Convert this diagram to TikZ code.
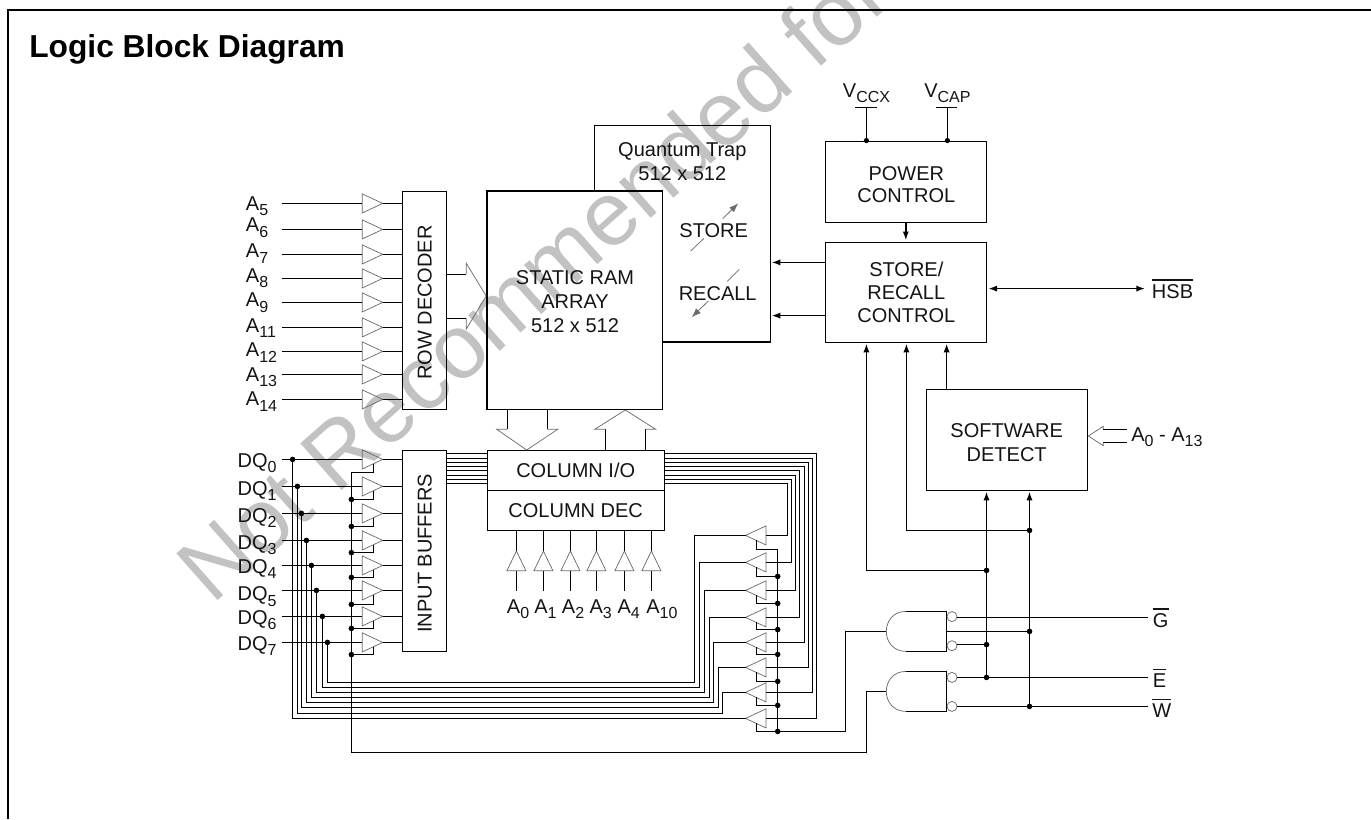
\documentclass[tikz,border=0pt]{standalone}
\usepackage{fontspec}
\setmainfont{Liberation Sans}
\usetikzlibrary{arrows.meta,calc}
\newcommand{\sbs}[1]{\raisebox{-4.2pt}{\fontsize{12pt}{12pt}\selectfont #1}}
\newcommand{\ovl}[1]{\vbox{\hrule height 1.4pt\kern 2.6pt\hbox{#1}}}
\newcommand{\bufr}[4]{%
  \coordinate (#1-in) at (#2,#3);
  \coordinate (#1-out) at ({#2+#4*20.4},#3);
  \draw[tribuf] ($(#1-in)+(0,-9.5)$) -- (#1-out) -- ($(#1-in)+(0,9.5)$) -- cycle;
}
\newcommand{\bufv}[3]{%
  \coordinate (#1-in) at (#2,#3);
  \coordinate (#1-out) at (#2,{#3-19.7});
  \draw[tribuf] ($(#1-in)+(-9.5,0)$) -- (#1-out) -- ($(#1-in)+(9.5,0)$) -- cycle;
}
\tikzset{
  wire/.style={line width=1.1pt,black,line join=miter},
  arrowwire/.style={wire,-{Latex[length=6.5pt,width=4.6pt]},shorten >=1pt},
  tribuf/.style={draw=black!58,line width=0.55pt,line join=miter},
  thinline/.style={draw=black!58,line width=0.55pt},
  blockbox/.style={draw=black,line width=1.1pt,rectangle,inner sep=0pt},
  txt/.style={font=\fontsize{15pt}{15pt}\selectfont,inner sep=0pt,text=black!92},
  mtxt/.style={txt,align=center,anchor=base},
  jdot/.style={fill=black},
}
\begin{document}
\begin{tikzpicture}[x=0.75pt,y=-0.75pt]
\useasboundingbox (0,0) rectangle (1371,819);
% watermark
\begin{scope}
\clip (0,0) rectangle (1371,819);
\node[inner sep=0pt,anchor=base west,rotate=41.5,text=black!24,font=\fontsize{68pt}{68pt}\selectfont] (wm) at (212,606) {Not Recommended for};
\end{scope}
% frame
\draw[line width=2pt] (8,819) -- (8,10) -- (1371,10);
\node[inner sep=0pt,anchor=base west,font=\fontsize{23.8pt}{24pt}\selectfont\bfseries] (title) at (29,57) {Logic Block Diagram};
% blocks
\node[blockbox,minimum width=33pt,minimum height=163.5pt] (rowdec) at (424.5,300.3) {};
\node[blockbox,minimum width=33.3pt,minimum height=150.8pt] (inbuf) at (424.5,550.8) {};
\draw[wire] (594.3,191) -- (594.3,125.3) -- (770.3,125.3) -- (770.3,342) -- (662.3,342);
\coordinate (qt-e1) at (770.3,262.4);
\coordinate (qt-e2) at (770.3,315.6);
\node[blockbox,minimum width=131.8pt,minimum height=163.7pt] (sram) at (574.8,300.2) {};
\node[blockbox,minimum width=132.8pt,minimum height=29.7pt] (colio) at (575.8,470.5) {};
\node[blockbox,minimum width=132.8pt,minimum height=30pt] (coldec) at (575.8,510.3) {};
\node[blockbox,minimum width=120.8pt,minimum height=60.75pt] (pwr) at (905.8,181.8) {};
\node[blockbox,minimum width=120.8pt,minimum height=75pt] (src) at (905.8,292.3) {};
\node[blockbox,minimum width=121pt,minimum height=75.75pt] (sw) at (1007,439.8) {};
% block texts
\node[txt,anchor=base,rotate=90] (rowtxt) at (431.7,302.5) {ROW DECODER};
\node[txt,anchor=base,rotate=90] (intxt) at (431.7,553.3) {INPUT BUFFERS};
\node[txt,anchor=base] (coliotxt) at (575.7,477.3) {COLUMN I/O};
\node[txt,anchor=base] (coldectxt) at (575.7,517.7) {COLUMN DEC};
\node[mtxt] (qttxt) at (682.3,180.7) {Quantum Trap\\[3.5pt]512 x 512};
\node[mtxt] (sramtxt) at (575,332) {STATIC RAM\\[2.7pt]ARRAY\\[2.7pt]512 x 512};
\node[mtxt] (pwrtxt) at (906.3,202.7) {POWER\\[1.8pt]CONTROL};
\node[mtxt] (srctxt) at (906.3,322.7) {STORE/\\[2.5pt]RECALL\\[2.5pt]CONTROL};
\node[mtxt] (swtxt) at (1006.7,461.7) {SOFTWARE\\[3pt]DETECT};
\node[txt,anchor=base] (storetxt) at (713.7,237.7) {STORE};
\node[txt,anchor=base] (recalltxt) at (717.7,300.7) {RECALL};
% store / recall arrows
\draw[thinline] (690.7,251) -- (704,238.3);
\draw[thinline,-{Latex[length=7pt,width=5pt]}] (722.7,218.7) -- (738.3,203.3);
\draw[thinline] (739.3,269.3) -- (727.3,281.3);
\draw[thinline,-{Latex[length=7pt,width=5pt]}] (708.3,301) -- (691.7,317.3);
% row address buffers
\foreach \n/\y/\b/\lab in {5/203.4/210/5,6/229.4/231.7/6,7/254.4/257.7/7,8/278.4/282.3/8,9/302.4/306.7/9,11/327.4/332.3/11,12/351.4/356.7/12,13/374.4/381/13,14/399.4/405.7/14}{
  \node[txt,anchor=base west] (alab\n) at (245.7,\b) {A\sbs{\lab}};
  \coordinate (as\n) at (281.7,\y);
  \bufr{ab\n}{362.3}{\y}{1}
  \draw[wire] (as\n) -- (ab\n-in);
  \draw[wire] (ab\n-out) -- (ab\n-out -| rowdec.west);
}
% hollow bus row decoder to sram
\draw[wire] (rowdec.east |- 0,274.4) -- (466.3,274.4);
\draw[wire] (rowdec.east |- 0,318.4) -- (466.3,318.4);
\draw[thinline] (466.3,274.4) -- (466.3,263.3) -- (sram.west |- 0,296) -- (466.3,329) -- (466.3,318.4);
% sram <-> column buses
\draw[wire] (507.4,409.3) -- (507.4,429.3);
\draw[wire] (547.4,409.3) -- (547.4,429.3);
\draw[thinline] (507.4,429.3) -- (496.7,429.3) -- (526.7,450) -- (557.7,429.3) -- (547.4,429.3);
\draw[wire] (605.6,450.7) -- (605.6,429.3);
\draw[wire] (645.6,450.7) -- (645.6,429.3);
\draw[thinline] (605.6,429.3) -- (594.7,429.3) -- (625.3,410) -- (655.7,429.3) -- (645.6,429.3);
% column address
\foreach \i/\x/\lx/\lab in {0/516.4/506.7/0,1/543.4/534/1,2/570.4/561.7/2,3/596.4/589.3/3,4/624.4/617.3/4,5/651.4/646/10}{
  \node[txt,anchor=base west] (clab\i) at (\lx,613.3) {A\sbs{\lab}};
  \coordinate (cs\i) at (\x,590.7);
  \bufv{cb\i}{\x}{570.7}
  \draw[wire] (cs\i) -- (cb\i-in);
  \draw[wire] (cb\i-out) -- (cb\i-out |- coldec.south);
}
% data input buffers, output buffers, buses
\draw[wire] (351.4,472.4) -- (351.4,752.4) -- (866.4,752.4) -- (866.4,691.4) -- (886.3,691.4);
\draw[wire] (777.5,549.4) -- (777.5,731.4) -- (845.6,731.4) -- (845.6,631.4) -- (886.3,631.4);
\foreach \i/\dy/\dx/\dl/\ey/\ty/\rx/\lx/\by/\busy/\en in {
  0/459.4/292.6/467.3/472.4/718.4/816.4/727/718.4/453.6/731.4,
  1/486.4/297.4/495/499.4/692.4/812.4/722.6/713.4/458.4/705.4,
  2/513.4/301.4/522.3/526.4/667.4/808.4/718.6/707.6/462.4/681.4,
  3/540.4/306.4/549/552.6/642.4/804.4/713.6/702.6/466.6/654.4,
  4/565.4/311.4/573.3/577.4/617.4/799.4/709.6/697.6/470.6/629.6,
  5/590.4/316.4/600.7/604.4/590.4/795.4/704.6/692.4/475.4/603.4,
  6/616.4/322.4/624.3/628.4/562.4/791.4/699.6/687.4/479.6/576.4,
  7/642.4/327.4/650/654.6/535.4/787.4/694.6/682.4/483.4/549.4}{
  \node[txt,anchor=base west] (dqlab\i) at (237.3,\dl) {DQ\sbs{\i}};
  \coordinate (dqs\i) at (282,\dy);
  \bufr{ib\i}{362.3}{\dy}{1}
  \bufr{ob\i}{765.9}{\ty}{-1}
  \draw[wire] (dqs\i) -- (ib\i-in);
  \draw[wire] (ib\i-out) -- (ib\i-out -| inbuf.west);
  \fill[jdot] (\dx,\dy) circle [radius=2.8];
  % enable of input buffer
  \draw[wire] (351.4,\ey) -- (373.4,\ey) -- (373.4,{\dy+4.4});
  % bus from input buffers to column I/O
  \draw[wire] (inbuf.east |- 0,\busy) -- (colio.west |- 0,\busy);
  % bus column I/O to output buffer
  \draw[wire] (colio.east |- 0,\busy) -- (\rx,\busy) -- (\rx,\ty) -- (ob\i-in);
  % output buffer to DQ line
  \draw[wire] (ob\i-out) -- (\lx,\ty) -- (\lx,\by) -- (\dx,\by) -- (\dx,\dy);
  % enable of output buffer
  \draw[wire] (756.4,{\ty+4.6}) -- (756.4,\en) -- (777.5,\en);
}
\foreach \y in {499.4,526.4,552.6,577.4,604.4,628.4,654.6}{\fill[jdot] (351.4,\y) circle [radius=2.8];}
\foreach \y in {576.4,603.4,629.6,654.4,681.4,705.4,731.4}{\fill[jdot] (777.7,\y) circle [radius=2.8];}
% power
\node[txt,anchor=base west] (vccx) at (842.7,97.3) {V\sbs{CCX}};
\node[txt,anchor=base west] (vcap) at (924,97.3) {V\sbs{CAP}};
\coordinate (vccxt) at (866.4,107.4);
\coordinate (vcapt) at (947.4,107.4);
\draw[wire] (855,107.4) -- (876.7,107.4);
\draw[wire] (936,107.4) -- (957.3,107.4);
\draw[wire] (vccxt) -- (vccxt |- pwr.north);
\draw[wire] (vcapt) -- (vcapt |- pwr.north);
\fill[jdot] (vccxt |- pwr.north) circle [radius=2.6];
\fill[jdot] (vcapt |- pwr.north) circle [radius=2.6];
\draw[arrowwire] (pwr.south) -- (src.north);
\draw[arrowwire] (src.west |- qt-e1) -- (qt-e1);
\draw[arrowwire] (src.west |- qt-e2) -- (qt-e2);
\node[txt,anchor=base west] (hsb) at (1151.7,298.7) {\ovl{HSB}};
\coordinate (hsbw) at (1145,288.6);
\draw[wire,{Latex[length=6.5pt,width=4.6pt]}-{Latex[length=6.5pt,width=4.6pt]},shorten <=1pt] (src.east |- hsbw) -- (hsbw);
% control
\coordinate (j1) at (986.5,570.4);
\coordinate (j2) at (1029.5,530.4);
\coordinate (j3) at (986.5,644.6);
\coordinate (j4) at (1029.5,631.4);
\coordinate (j5) at (986.5,677.4);
\coordinate (j6) at (1029.5,706.4);
\draw[arrowwire] (j1) -- (866.4,570.4) -- (866.4,342.3);
\draw[arrowwire] (j2) -- (906.4,530.4) -- (906.4,342.3);
\draw[arrowwire] (sw.north -| 946.6,0) -- (946.6,342.3);
\draw[arrowwire] (j5) -- (986.5,490.3);
\draw[arrowwire] (j6) -- (1029.5,490.3);
\foreach \p in {j1,j2,j3,j4,j5,j6}{\fill[jdot] (\p) circle [radius=2.8];}
% gates
\foreach \g/\t/\m/\b/\ua/\ub in {a/611.4/631.4/651.4/616.6/645.7,b/671.4/691.4/711.4/677.4/706.4}{
  \draw[wire] (906,\t) -- (946.6,\t) -- (946.6,\b) -- (906,\b);
  \draw[thinline] (906,\t) .. controls (893,\t) and (886.3,{\m-10}) .. (886.3,\m) .. controls (886.3,{\m+10}) and (893,\b) .. (906,\b);
  \draw[thinline,fill=white] (952,\ua) circle [radius=5];
  \draw[thinline,fill=white] (952,\ub) circle [radius=5];
}
\coordinate (gl) at (1148.3,617.4);
\coordinate (el) at (1148.3,677.4);
\coordinate (wl) at (1148.3,706.4);
\draw[wire] (957,617.4) -- (gl);
\draw[wire] (946.6,631.4) -- (j4);
\draw[wire] (957,644.6) -- (j3);
\draw[wire] (957,677.4) -- (el);
\draw[wire] (957,706.4) -- (wl);
\node[txt,anchor=base west] (glab) at (1152.7,627.3) {\ovl{G}};
\node[txt,anchor=base west] (elab) at (1152.7,687.7) {\ovl{E}};
\node[txt,anchor=base west] (wlab) at (1152,717.7) {\ovl{W}};
% software detect bus
\draw[wire] (1127.3,429.4) -- (1103.3,429.4);
\draw[wire] (1127.3,442.6) -- (1103.3,442.6);
\draw[thinline] (1103.3,429.4) -- (1103.3,426.3) -- (sw.east |- 0,436) -- (1103.3,445.7) -- (1103.3,442.6);
\node[txt,anchor=base west] (swa) at (1131,441) {A\sbs{0} - A\sbs{13}};
\end{tikzpicture}
\end{document}
